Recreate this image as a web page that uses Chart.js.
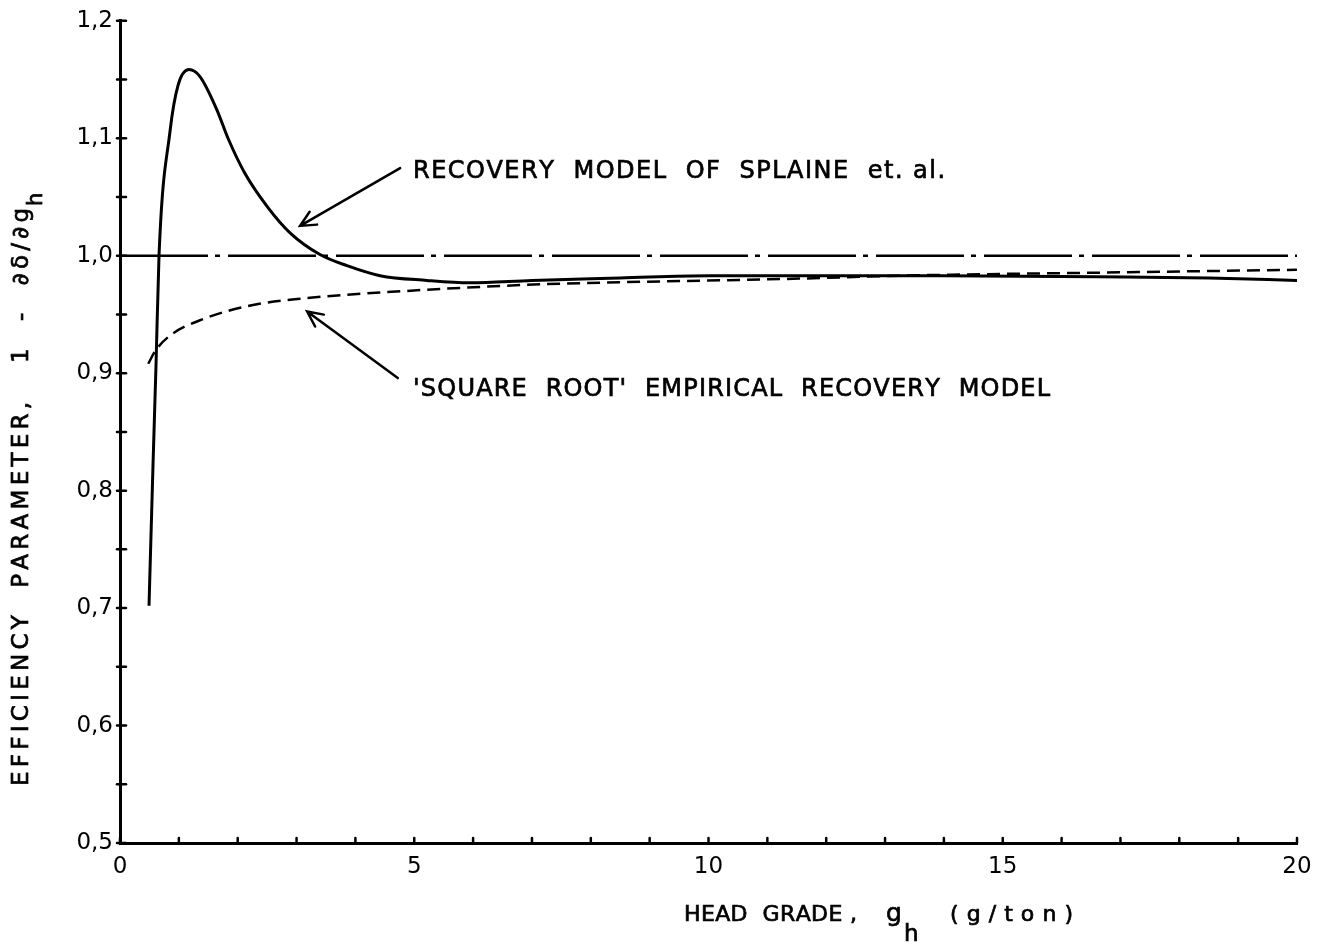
<!DOCTYPE html>
<html>
<head>
<meta charset="utf-8">
<script src="https://cdn.jsdelivr.net/npm/chart.js@4.4.1/dist/chart.umd.min.js"></script>
<style>
  html, body { margin: 0; padding: 0; background: #fff; overflow: hidden; }
  canvas { display: block; }
</style>
</head>
<body>
<canvas id="chart" width="1326" height="942"></canvas>
<script>
const FONT = "'DejaVu Sans', 'Liberation Sans', sans-serif";

// ===== DATA =====
// recovery model of Splaine et al. (solid)
const splaineX = [0.493, 0.561, 0.612, 0.663, 0.850, 0.986, 1.172, 1.359, 1.648, 1.835, 2.124, 2.515, 2.889, 3.398, 3.857, 4.418, 5.217, 5.947, 7.0, 8.5, 10, 12, 14, 16.6, 18.5, 20];
const splaineY = [0.702, 0.822, 0.907, 1.000, 1.106, 1.145, 1.1585, 1.1525, 1.124, 1.100, 1.070, 1.041, 1.0195, 1.001, 0.9915, 0.983, 0.979, 0.977, 0.979, 0.981, 0.983, 0.983, 0.983, 0.982, 0.981, 0.979];

// 'square root' empirical recovery model (dashed)
const sqrtX = [0.48, 0.60, 0.85, 1.41, 2.26, 3.18, 4.54, 6.80, 8.16, 11.55, 13.25, 16.65, 20];
const sqrtY = [0.908, 0.919, 0.932, 0.946, 0.958, 0.964, 0.969, 0.975, 0.977, 0.9805, 0.983, 0.9856, 0.988];

// reference line at 1,0 (dash-dot)
const unityX = [0, 20];
const unityY = [1.0, 1.0];

const xLabelValues = [0, 5, 10, 15, 20];
const yLabelValues = [0.5, 0.6, 0.7, 0.8, 0.9, 1.0, 1.1, 1.2];

const toPts = (xs, ys) => xs.map((x, i) => ({ x, y: ys[i] }));
const isLabel = (list, v) => list.some(l => Math.abs(l - v) < 1e-6);

// draw text spread out to a given width (the original lettering is wide)
function drawSpaced(ctx, text, x, y, width, font) {
    ctx.font = font;
    const chars = [...text];
    const ws = chars.map(c => ctx.measureText(c).width);
    const total = ws.reduce((a, b) => a + b, 0);
    const extra = chars.length > 1 ? (width - total) / (chars.length - 1) : 0;
    let cx = x;
    chars.forEach((c, i) => {
        ctx.fillText(c, cx, y);
        ctx.strokeText(c, cx, y);
        cx += ws[i] + extra;
    });
}

function arrow(ctx, x1, y1, x2, y2) {
    const a = Math.atan2(y2 - y1, x2 - x1), L = 17, s = 0.45;
    ctx.beginPath();
    ctx.moveTo(x1, y1); ctx.lineTo(x2, y2);
    ctx.moveTo(x2 - L * Math.cos(a - s), y2 - L * Math.sin(a - s));
    ctx.lineTo(x2, y2);
    ctx.lineTo(x2 - L * Math.cos(a + s), y2 - L * Math.sin(a + s));
    ctx.stroke();
}

// ===== DECORATIONS: ticks, notes, axis titles =====
const decor = {
    id: 'decor',
    afterDraw(chart) {
        const { ctx, scales: { x, y } } = chart;
        const ax = x.getPixelForValue(0), ay = y.getPixelForValue(0.5);
        ctx.save();
        ctx.strokeStyle = '#000'; ctx.fillStyle = '#000';
        ctx.lineCap = 'round'; ctx.lineWidth = 2.5;

        y.ticks.forEach(t => {
            const py = y.getPixelForValue(t.value);
            ctx.beginPath(); ctx.moveTo(ax - 3, py); ctx.lineTo(ax + 6, py); ctx.stroke();
        });
        x.ticks.forEach(t => {
            const px = x.getPixelForValue(t.value);
            ctx.beginPath(); ctx.moveTo(px, ay); ctx.lineTo(px, ay - 5); ctx.stroke();
        });

        // arrows
        arrow(ctx, x.getPixelForValue(4.76), y.getPixelForValue(1.0746), x.getPixelForValue(3.06), y.getPixelForValue(1.0254));
        arrow(ctx, x.getPixelForValue(4.72), y.getPixelForValue(0.8958), x.getPixelForValue(3.18), y.getPixelForValue(0.9525));

        // notes
        ctx.lineWidth = 0.7; ctx.lineCap = 'butt';
        ctx.textBaseline = 'alphabetic'; ctx.textAlign = 'left';
        drawSpaced(ctx, 'RECOVERY  MODEL  OF  SPLAINE  et. al.', x.getPixelForValue(4.98), y.getPixelForValue(1.066), 532, `24px ${FONT}`);
        drawSpaced(ctx, "'SQUARE  ROOT'  EMPIRICAL  RECOVERY  MODEL", x.getPixelForValue(4.98), y.getPixelForValue(0.8805), 637, `24px ${FONT}`);

        // x title
        drawSpaced(ctx, 'HEAD  GRADE ,', 684, 921, 173, `22px ${FONT}`);
        drawSpaced(ctx, 'g', 886, 921, 16, `25px ${FONT}`);
        drawSpaced(ctx, 'h', 904, 941, 14, `23px ${FONT}`);
        drawSpaced(ctx, '( g / t o n )', 950, 921, 123, `22px ${FONT}`);

        // y title
        ctx.translate(28, 786);
        ctx.rotate(-Math.PI / 2);
        drawSpaced(ctx, 'EFFICIENCY  PARAMETER,   1  -  \u2202\u03b4/\u2202g', 0, 0, 578, `23px ${FONT}`);
        drawSpaced(ctx, 'h', 580, 14, 12, `21px ${FONT}`);
        ctx.restore();
    }
};

const ctx = document.getElementById('chart').getContext('2d');
new Chart(ctx, {
    type: 'line',
    data: {
        datasets: [
            { data: toPts(splaineX, splaineY), borderColor: '#000', borderWidth: 3, pointRadius: 0, cubicInterpolationMode: 'monotone' },
            { data: toPts(sqrtX, sqrtY), borderColor: '#000', borderWidth: 2.5, borderDash: [13, 7], pointRadius: 0, cubicInterpolationMode: 'monotone' },
            { data: toPts(unityX, unityY), borderColor: '#000', borderWidth: 2.5, borderDash: [88, 7, 5, 8], pointRadius: 0 }
        ]
    },
    options: {
        responsive: false,
        animation: false,
        devicePixelRatio: 1,
        layout: { padding: { top: 17, right: 29, left: 0, bottom: 0 } },
        plugins: { legend: { display: false }, tooltip: { enabled: false } },
        scales: {
            x: {
                type: 'linear', min: 0, max: 20,
                grid: { display: false, drawTicks: false },
                border: { display: true, color: '#000', width: 3 },
                ticks: {
                    stepSize: 1, autoSkip: false, maxRotation: 0, padding: 10, color: '#000',
                    font: { family: FONT, size: 23 },
                    callback: v => isLabel(xLabelValues, v) ? String(v) : ''
                },
                afterFit: s => { s.height = 99; }
            },
            y: {
                type: 'linear', min: 0.5, max: 1.2,
                grid: { display: false, drawTicks: false },
                border: { display: true, color: '#000', width: 3 },
                ticks: {
                    stepSize: 0.05, autoSkip: false, padding: 7, color: '#000',
                    font: { family: FONT, size: 23 },
                    callback: v => isLabel(yLabelValues, v) ? v.toFixed(1).replace('.', ',') : ''
                },
                afterFit: s => { s.width = 120; }
            }
        }
    },
    plugins: [decor]
});
</script>
</body>
</html>
